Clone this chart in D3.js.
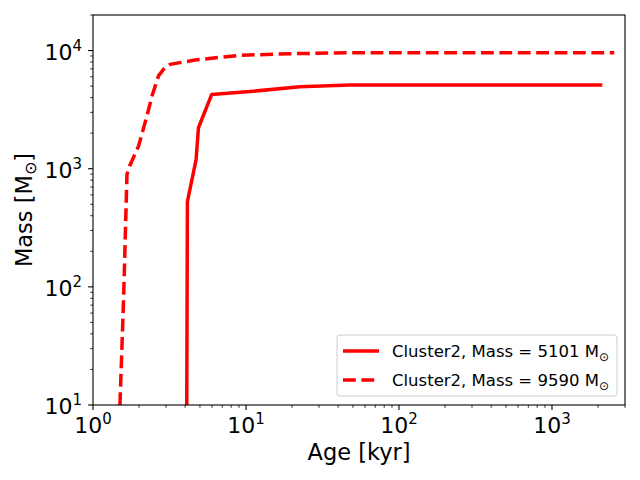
<!DOCTYPE html>
<html>
<head>
<meta charset="utf-8">
<script src="https://cdn.jsdelivr.net/npm/d3@7"></script>
<style>
  body { margin: 0; background: #fff; }
  text { font-family: "DejaVu Sans", sans-serif; }
</style>
</head>
<body>
<svg id="chart" width="640" height="480"></svg>
<script>
// cluster 1 (solid)
const solidAge  = [4.10, 4.14, 4.72, 4.89, 5.97, 10.6, 22.5, 47.7, 2133];
const solidMass = [10, 527, 1197, 2222, 4255, 4500, 4950, 5101, 5101];
// cluster 2 (dashed)
const dashAge  = [1.50, 1.584, 1.667, 1.733, 1.984, 2.25, 2.43, 2.68, 2.89, 3.19, 4.65, 9.14, 19.4, 47.7, 2550];
const dashMass = [10, 77.7, 893, 1050, 1553, 2787, 4120, 6100, 6935, 7650, 8320, 9120, 9400, 9590, 9590];

const legendLabels = ["Cluster2, Mass = 5101 M", "Cluster2, Mass = 9590 M"];
const xTicks = [1, 10, 100, 1000];
const yTicks = [10, 100, 1000, 10000];

const svg = d3.select("#chart");
const margin = {top: 15, right: 15, bottom: 75, left: 93};
const width = +svg.attr("width");
const height = +svg.attr("height");
const innerWidth = width - margin.left - margin.right;
const innerHeight = height - margin.top - margin.bottom;

const xScale = d3.scaleLog().domain([1, 3000]).range([0, innerWidth]);
const yScale = d3.scaleLog().domain([10, 20000]).range([innerHeight, 0]);

const g = svg.append("g")
  .attr("transform", `translate(${margin.left}, ${margin.top})`);

// minor ticks
const minorX = [];
for (let d = 1; d <= 1000; d *= 10)
  for (let m = 2; m <= 9; m++) if (d * m <= 3000) minorX.push(d * m);
const minorY = [];
for (let d = 10; d <= 10000; d *= 10)
  for (let m = 2; m <= 9; m++) if (d * m <= 20000) minorY.push(d * m);

g.selectAll(".xminor").data(minorX).enter().append("line")
  .attr("x1", d => xScale(d)).attr("x2", d => xScale(d))
  .attr("y1", innerHeight).attr("y2", innerHeight + 2.8)
  .attr("stroke", "#000").attr("stroke-width", 0.8);
g.selectAll(".yminor").data(minorY).enter().append("line")
  .attr("y1", d => yScale(d)).attr("y2", d => yScale(d))
  .attr("x1", 0).attr("x2", -2.8)
  .attr("stroke", "#000").attr("stroke-width", 0.8);

// major ticks
g.selectAll(".xmajor").data(xTicks).enter().append("line")
  .attr("x1", d => xScale(d)).attr("x2", d => xScale(d))
  .attr("y1", innerHeight).attr("y2", innerHeight + 4.9)
  .attr("stroke", "#000").attr("stroke-width", 1.1);
g.selectAll(".ymajor").data(yTicks).enter().append("line")
  .attr("y1", d => yScale(d)).attr("y2", d => yScale(d))
  .attr("x1", 0).attr("x2", -4.9)
  .attr("stroke", "#000").attr("stroke-width", 1.1);

const exp = d => Math.round(Math.log10(d));

// x tick labels
const xl = g.selectAll(".xlab").data(xTicks).enter().append("text")
  .attr("x", d => xScale(d)).attr("y", innerHeight + 28)
  .attr("text-anchor", "middle")
  .style("font-size", "22px");
xl.append("tspan").text("10");
xl.append("tspan").attr("dy", -9).style("font-size", "15px").text(d => exp(d));

// y tick labels
const yl = g.selectAll(".ylab").data(yTicks).enter().append("text")
  .attr("x", -11).attr("y", d => yScale(d) + 9)
  .attr("text-anchor", "end")
  .style("font-size", "22px");
yl.append("tspan").text("10");
yl.append("tspan").attr("dy", -9).style("font-size", "15px").text(d => exp(d));

// clip
svg.append("defs").append("clipPath").attr("id", "clip")
  .append("rect").attr("width", innerWidth).attr("height", innerHeight);

const line = d3.line()
  .x(d => xScale(d[0]))
  .y(d => yScale(d[1]));

const solidData = solidAge.map((a, i) => [a, solidMass[i]]);
const dashData = dashAge.map((a, i) => [a, dashMass[i]]);

const plot = g.append("g").attr("clip-path", "url(#clip)");
plot.append("path").datum(solidData)
  .attr("d", line)
  .attr("fill", "none").attr("stroke", "#ff0000")
  .attr("stroke-width", 3.5).attr("stroke-linejoin", "round");
plot.append("path").datum(dashData)
  .attr("d", line)
  .attr("fill", "none").attr("stroke", "#ff0000")
  .attr("stroke-width", 3.5).attr("stroke-dasharray", "12.8,5.6");

// frame
g.append("rect")
  .attr("width", innerWidth).attr("height", innerHeight)
  .attr("fill", "none").attr("stroke", "#000").attr("stroke-width", 1.1);

// axis titles
g.append("text")
  .attr("x", innerWidth / 2).attr("y", innerHeight + 55)
  .attr("text-anchor", "middle")
  .style("font-size", "22.5px")
  .text("Age [kyr]");

const yt = g.append("text")
  .attr("transform", `translate(-61, ${innerHeight / 2}) rotate(-90)`)
  .attr("text-anchor", "middle")
  .style("font-size", "22.5px");
yt.append("tspan").text("Mass [M");
yt.append("tspan").attr("dy", 4).style("font-size", "16px").text("\u2299");
yt.append("tspan").attr("dy", -4).text("]");

// legend
const lg = g.append("g").attr("transform", `translate(${337 - margin.left}, ${335 - margin.top})`);
lg.append("rect")
  .attr("width", 280).attr("height", 61).attr("rx", 3)
  .attr("fill", "#fff").attr("fill-opacity", 0.8)
  .attr("stroke", "#cccccc").attr("stroke-width", 1);

const legendRows = lg.selectAll(".row").data(legendLabels).enter().append("g")
  .attr("transform", (d, i) => `translate(0, ${16 + i * 29})`);
legendRows.append("line")
  .attr("x1", 6).attr("x2", 42).attr("y1", 0).attr("y2", 0)
  .attr("stroke", "#ff0000").attr("stroke-width", 3.5)
  .attr("stroke-dasharray", (d, i) => i === 1 ? "12.8,5.6" : null);
const lt = legendRows.append("text")
  .attr("x", 55).attr("y", 6)
  .style("font-size", "16.5px");
lt.append("tspan").text(d => d);
lt.append("tspan").attr("dy", 4).style("font-size", "12px").text("\u2299");
</script>
</body>
</html>
